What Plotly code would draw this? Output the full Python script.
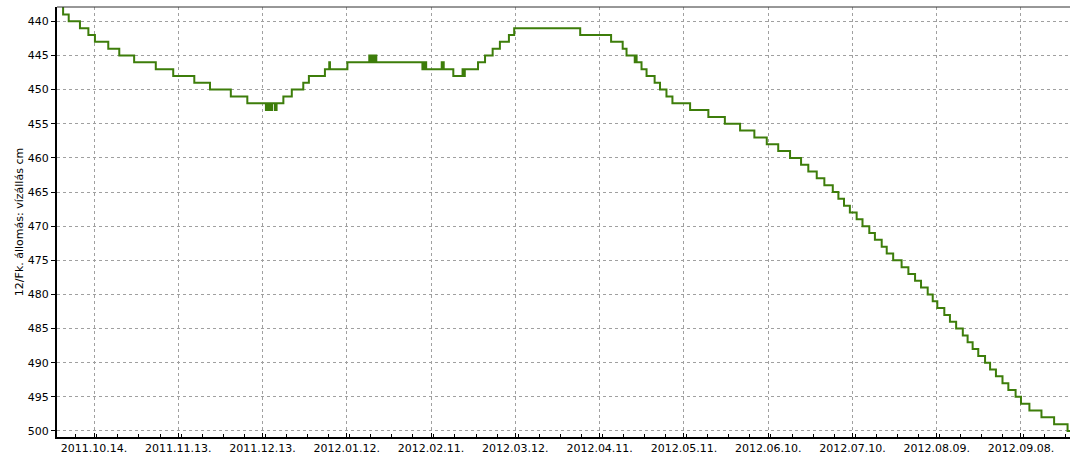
import plotly.graph_objects as go
import pandas as pd

# Water level readings (step series): date of change -> level in cm
dates = [
    "2011-10-01 00:00", "2011-10-03 00:00", "2011-10-05 00:00", "2011-10-09 00:00",
    "2011-10-12 00:00", "2011-10-14 08:00", "2011-10-19 02:00", "2011-10-23 00:00",
    "2011-10-28 07:00", "2011-11-05 00:00", "2011-11-11 05:00", "2011-11-18 17:00",
    "2011-11-24 07:00", "2011-12-01 17:00", "2011-12-07 14:00",
    "2011-12-14 05:00", "2011-12-14 13:00", "2011-12-14 21:00", "2011-12-15 05:00",
    "2011-12-15 13:00", "2011-12-15 21:00", "2011-12-16 05:00", "2011-12-16 10:00",
    "2011-12-17 10:00", "2011-12-18 00:00",
    "2011-12-20 10:00", "2011-12-23 10:00", "2011-12-27 12:00", "2011-12-29 12:00",
    "2012-01-04 05:00", "2012-01-05 18:00", "2012-01-06 00:00", "2012-01-12 05:00",
    "2012-01-20 00:00", "2012-01-20 08:00", "2012-01-20 16:00", "2012-01-21 00:00",
    "2012-01-21 08:00", "2012-01-21 12:00", "2012-01-22 00:00", "2012-01-22 12:00",
    "2012-02-07 22:00", "2012-02-08 06:00", "2012-02-08 14:00", "2012-02-08 22:00",
    "2012-02-09 06:00",
    "2012-02-14 19:00", "2012-02-15 12:00", "2012-02-18 22:00",
    "2012-02-22 05:00", "2012-02-22 12:00", "2012-02-23 00:00",
    "2012-02-27 17:00", "2012-03-01 05:00", "2012-03-03 22:00", "2012-03-06 12:00",
    "2012-03-09 17:00", "2012-03-11 14:00", "2012-04-04 02:00", "2012-04-15 02:00",
    "2012-04-19 05:00", "2012-04-20 14:00", "2012-04-23 12:00", "2012-04-23 20:00",
    "2012-04-24 04:00", "2012-04-25 22:00", "2012-04-27 17:00", "2012-04-30 14:00",
    "2012-05-02 12:00", "2012-05-04 19:00", "2012-05-06 22:00", "2012-05-13 05:00",
    "2012-05-19 17:00", "2012-05-25 14:00", "2012-05-31 00:00", "2012-06-05 02:00",
    "2012-06-09 12:00", "2012-06-13 14:00", "2012-06-17 19:00", "2012-06-21 17:00",
    "2012-06-24 07:00", "2012-06-27 07:00", "2012-06-30 00:00", "2012-07-03 00:00",
    "2012-07-05 00:00", "2012-07-07 00:00", "2012-07-09 02:00", "2012-07-11 12:00",
    "2012-07-13 14:00", "2012-07-16 00:00", "2012-07-18 00:00", "2012-07-20 10:00",
    "2012-07-22 05:00", "2012-07-24 12:00", "2012-07-27 12:00", "2012-07-29 22:00",
    "2012-08-01 07:00", "2012-08-03 10:00", "2012-08-05 19:00", "2012-08-07 14:00",
    "2012-08-09 05:00", "2012-08-11 17:00", "2012-08-13 17:00", "2012-08-15 22:00",
    "2012-08-18 07:00", "2012-08-20 00:00", "2012-08-21 19:00", "2012-08-23 19:00",
    "2012-08-26 05:00", "2012-08-28 00:00", "2012-08-30 02:00", "2012-09-01 10:00",
    "2012-09-03 12:00", "2012-09-06 02:00", "2012-09-08 00:00", "2012-09-11 00:00",
    "2012-09-15 07:00", "2012-09-19 19:00", "2012-09-24 14:00", "2012-09-27 00:00",
]
levels = [
    437, 439, 440, 441,
    442, 443, 444, 445,
    446, 447, 448, 449,
    450, 451, 452,
    453, 452, 453, 452,
    453, 452, 453, 452,
    453, 452,
    451, 450, 449, 448,
    447, 446, 447, 446,
    445, 446, 445, 446,
    445, 446, 445, 446,
    447, 446, 447, 446,
    447,
    446, 447, 448,
    447, 448, 447,
    446, 445, 444, 443,
    442, 441, 442, 443,
    444, 445, 446, 445,
    446, 447, 448, 449,
    450, 451, 452, 453,
    454, 455, 456, 457,
    458, 459, 460, 461,
    462, 463, 464, 465,
    466, 467, 468, 469,
    470, 471, 472, 473,
    474, 475, 476, 477,
    478, 479, 480, 481,
    482, 483, 484, 485,
    486, 487, 488, 489,
    490, 491, 492, 493,
    494, 495, 496, 497,
    498, 499, 500, 500,
]

y_ticks = [440, 445, 450, 455, 460, 465, 470, 475, 480, 485, 490, 495, 500]
x_tick_start = "2011-10-14"
y_title = "12/Fk. állomás: vízállás cm"

DAY_MS = 86400000
x0 = pd.Timestamp(x_tick_start)
x_range = [x0 - pd.Timedelta(days=13.17), x0 + pd.Timedelta(days=347.45)]

FONT = "DejaVu Sans"

fig = go.Figure()
fig.add_trace(go.Scatter(
    x=pd.to_datetime(dates), y=levels, mode="lines",
    line=dict(color="#3d7d0a", width=2, shape="hv"),
    showlegend=False, hoverinfo="x+y",
))

fig.update_layout(
    width=1070, height=464,
    margin=dict(l=57, r=0, t=7, b=27),
    paper_bgcolor="white", plot_bgcolor="white",
    font=dict(family=FONT, size=11, color="black"),
    xaxis=dict(
        type="date", range=x_range,
        tick0=x_tick_start, dtick=30 * DAY_MS, tickformat="%Y.%m.%d.",
        ticks="inside", ticklen=4, tickcolor="black", tickwidth=1,
        showgrid=True, gridcolor="#a0a0a0", gridwidth=1, griddash="3px,3px",
        showline=True, linecolor="black", linewidth=2,
        minor=dict(dtick=7.5 * DAY_MS, ticks="inside", ticklen=3,
                   tickcolor="black", showgrid=False),
        tickfont=dict(family=FONT, size=11, color="black"),
        zeroline=False, fixedrange=True,
    ),
    yaxis=dict(
        range=[500.88, 437.9], tickvals=y_ticks,
        ticks="outside", ticklen=4, tickcolor="black", tickwidth=1,
        showgrid=True, gridcolor="#a0a0a0", gridwidth=1, griddash="3px,3px",
        showline=True, linecolor="black", linewidth=2,
        tickfont=dict(family=FONT, size=11, color="black"),
        title=dict(text=y_title, font=dict(family=FONT, size=11, color="black"), standoff=2),
        zeroline=False, fixedrange=True,
    ),
    shapes=[dict(type="line", xref="paper", yref="paper", x0=0, x1=1, y0=1, y1=1,
                 line=dict(color="#303030", width=1))],
)

fig.write_html(
    "out.html",
    config={"displayModeBar": False},
    post_script="document.body.style.margin='0px';document.body.style.overflow='hidden';",
)
